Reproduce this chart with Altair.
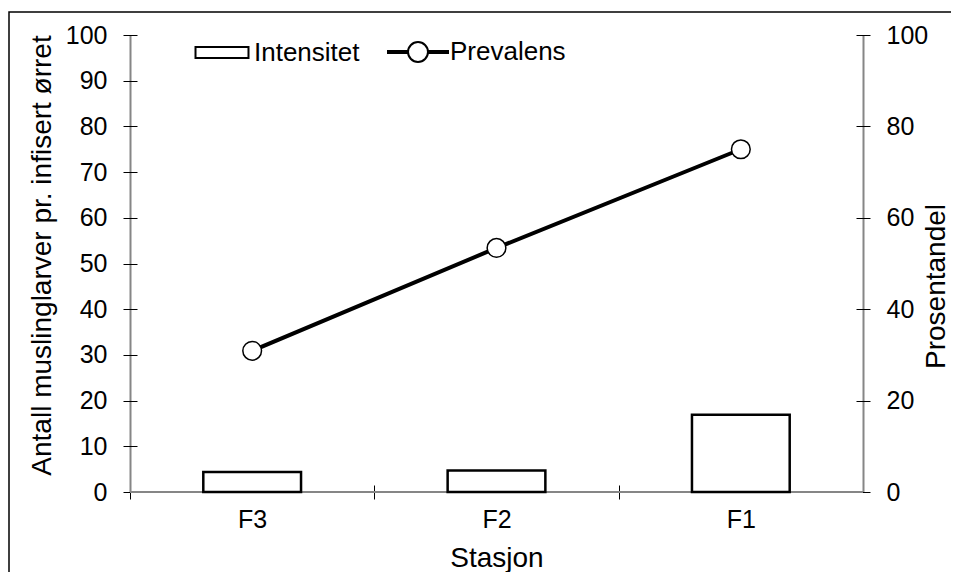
import altair as alt
import pandas as pd

# ---- data ----
stasjon = ["F3", "F2", "F1"]
intensitet = [4.4, 4.7, 16.9]          # left axis (bars)
prevalens = [30.9, 53.4, 75.0]         # right axis (line with circles)
serier = ["Intensitet", "Prevalens"]
left_ticks = [0, 10, 20, 30, 40, 50, 60, 70, 80, 90, 100]
right_ticks = [0, 20, 40, 60, 80, 100]

FONT = "Liberation Sans, Arial, sans-serif"
FS = 25
TFS = 28
W, H = 733, 457
BAND = W / 3
AXIS_GRAY = "#868686"
SYM = 3600

df = pd.DataFrame({"Stasjon": stasjon, "Intensitet": intensitet, "Prevalens": prevalens})
legend_df = pd.DataFrame({"serie": serier})
one = pd.DataFrame({"k": [0]})

common_axis = dict(
    domain=False, grid=False, offset=-7, tickSize=14, tickColor="black", tickWidth=1,
    labelFont=FONT, labelFontSize=FS, labelColor="black",
    titleFont=FONT, titleFontSize=TFS, titleFontWeight="normal", titleColor="black",
)

x_axis = alt.Axis(title="Stasjon", labelAngle=0, tickOffset=-BAND / 2, labelOffset=BAND / 2,
                  labelPadding=8, titlePadding=12, **common_axis)
x_enc = alt.X("Stasjon:N", sort=stasjon,
              scale=alt.Scale(paddingInner=0, paddingOuter=0), axis=x_axis)

y_left = alt.Y("Intensitet:Q", scale=alt.Scale(domain=[0, 100], nice=False),
               axis=alt.Axis(orient="left", title="Antall muslinglarver pr. infisert ørret",
                             values=left_ticks, labelPadding=16, titlePadding=9, titleY=220,
                             **common_axis))
y_right_axis = alt.Axis(orient="right", title="Prosentandel", values=right_ticks,
                        labelPadding=16, titlePadding=-5, titleAngle=270, titleBaseline="top",
                        titleY=251, **common_axis)
y_right = alt.Y("Prevalens:Q", scale=alt.Scale(domain=[0, 100], nice=False), axis=y_right_axis)

frame = alt.Chart(one).mark_rect(filled=False, stroke="black", strokeWidth=1.5).encode(
    x=alt.value(-121), x2=alt.value(950), y=alt.value(-23), y2=alt.value(700))

bars = alt.Chart(df).mark_bar(width=alt.RelativeBandSize(0.4), fill="white",
                              stroke="black", strokeWidth=2.5).encode(x=x_enc, y=y_left)

line = alt.Chart(df).mark_line(color="black", strokeWidth=4).encode(x=x_enc, y=y_right)
points = alt.Chart(df).mark_point(shape="circle", filled=True, fill="white", stroke="black",
                                  strokeWidth=1.5, size=350, opacity=1).encode(x=x_enc, y=y_right)
right = alt.layer(line, points)

def domain_layer(orient):
    return alt.Chart(one).mark_rule(color=AXIS_GRAY, strokeWidth=2).encode(
        y=alt.YDatum(0, scale=alt.Scale(domain=[0, 100], nice=False),
                     axis=alt.Axis(orient=orient, domain=True, domainColor=AXIS_GRAY,
                                   domainWidth=2, ticks=False, labels=False, grid=False,
                                   title=None)))

dom_left = domain_layer("left")
dom_right = domain_layer("right")

rect_path = "M-0.883,-0.183L0.883,-0.183L0.883,0.183L-0.883,0.183Z"
line_path = ("M-1,-0.033L-0.333,-0.033L-0.333,0.033L-1,0.033Z"
             "M0.333,-0.033L1,-0.033L1,0.033L0.333,0.033Z"
             "M-0.333,0A0.333,0.333,0,1,0,0.333,0A0.333,0.333,0,1,0,-0.333,0Z")

# legend-only layer: its marks sit outside the canvas, only the legend is seen
legend_layer = alt.Chart(legend_df).mark_point(filled=False, color="black", strokeWidth=2,
                                               size=SYM, opacity=1).encode(
    x=alt.value(-2000), y=alt.value(-2000),
    shape=alt.Shape("serie:N", scale=alt.Scale(domain=serier, range=[rect_path, line_path]),
                    legend=alt.Legend(orient="none", legendX=61, legendY=-14,
                                      direction="horizontal", title=None,
                                      symbolSize=SYM, symbolStrokeColor="black",
                                      symbolStrokeWidth=2, symbolOpacity=1,
                                      labelFont=FONT, labelFontSize=26,
                                      labelColor="black", labelOffset=1, columnPadding=24,
                                      labelLimit=300)))

chart = alt.layer(frame, dom_left, dom_right, bars, right, legend_layer).resolve_scale(
    y="independent").properties(
    width=W, height=H,
    autosize=alt.AutoSizeParams(type="none"),
    padding={"left": 122, "top": 27, "right": 88, "bottom": 80},
    background="white",
).configure_view(strokeWidth=0)

chart.save("out.html", embed_options={"renderer": "svg", "actions": False})
